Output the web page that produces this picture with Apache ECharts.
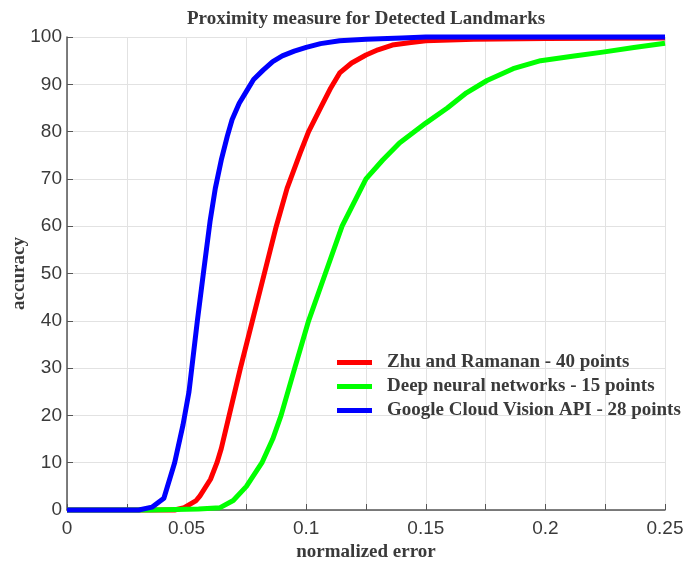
<!DOCTYPE html>
<html>
<head>
<meta charset="utf-8">
<script src="https://cdn.jsdelivr.net/npm/echarts@6/dist/echarts.min.js"></script>
<style>
  html, body { margin: 0; padding: 0; background: #fff; }
  #chart { width: 685px; height: 563px; }
</style>
</head>
<body>
<div id="chart"></div>
<script>
// --- data ---
const seriesNames = ['Zhu and Ramanan - 40 points', 'Deep neural networks - 15 points', 'Google Cloud Vision API - 28 points'];
const seriesColors = ['#ff0000', '#00ff00', '#0000ff'];

const zhuX = [0, 0.045, 0.049, 0.054, 0.0556, 0.060, 0.0627, 0.0645, 0.0678, 0.0725, 0.0775, 0.0825, 0.0875, 0.092, 0.0975, 0.101, 0.106, 0.110, 0.114, 0.119, 0.125, 0.130, 0.136, 0.143, 0.150, 0.170, 0.200, 0.250];
const zhuY = [0, 0, 0.5, 2, 3, 6.5, 10, 13, 20, 30, 40, 50, 60, 68, 75.5, 80, 85, 89, 92.4, 94.5, 96.2, 97.3, 98.3, 98.8, 99.2, 99.5, 99.7, 99.8];

const dnnX = [0, 0.035, 0.055, 0.064, 0.0695, 0.075, 0.0815, 0.086, 0.0895, 0.0952, 0.101, 0.108, 0.115, 0.125, 0.132, 0.139, 0.150, 0.159, 0.167, 0.1756, 0.1865, 0.198, 0.212, 0.224, 0.237, 0.250];
const dnnY = [0, 0, 0.2, 0.5, 2, 5, 10, 15, 20, 30, 40, 50, 60, 70, 74, 77.6, 81.8, 85, 88.2, 90.8, 93.3, 95, 96, 96.8, 97.8, 98.7];

const gcvX = [0, 0.030, 0.0355, 0.0405, 0.045, 0.0485, 0.051, 0.0545, 0.057, 0.0598, 0.062, 0.0645, 0.067, 0.069, 0.072, 0.075, 0.078, 0.082, 0.086, 0.090, 0.095, 0.100, 0.106, 0.114, 0.125, 0.140, 0.150, 0.250];
const gcvY = [0, 0, 0.6, 2.5, 10, 18, 25, 40, 50, 61, 68, 74, 79, 82.5, 86, 88.5, 91, 93, 94.8, 96, 97, 97.8, 98.6, 99.2, 99.5, 99.8, 100, 100];

const xTickLabels = ['0', '0.05', '0.1', '0.15', '0.2', '0.25'];
const yTickLabels = ['0', '10', '20', '30', '40', '50', '60', '70', '80', '90', '100'];

const serif = "'Liberation Serif', 'Times New Roman', serif";
const sans = "'Liberation Sans Narrow', 'Liberation Sans', Arial, sans-serif";

const pairs = (xs, ys) => xs.map((x, i) => [x, ys[i]]);
const allData = [pairs(zhuX, zhuY), pairs(dnnX, dnnY), pairs(gcvX, gcvY)];

const chart = echarts.init(document.getElementById('chart'));
chart.setOption({
  animation: false,
  backgroundColor: '#fff',
  title: {
    text: 'Proximity measure for Detected Landmarks',
    left: 187,
    top: 10,
    padding: 0,
    textStyle: { fontFamily: serif, fontWeight: 'bold', fontSize: 19, color: '#3a3a3a' }
  },
  legend: {
    orient: 'vertical',
    left: 337,
    top: 353,
    padding: 0,
    itemWidth: 35,
    itemHeight: 5,
    itemGap: 5,
    icon: 'rect',
    data: seriesNames,
    textStyle: { fontFamily: serif, fontWeight: 'bold', fontSize: 19, color: '#3a3a3a', padding: [0, 0, 0, 10] }
  },
  grid: { left: 67, right: 20, top: 37, bottom: 53, containLabel: false, outerBoundsMode: 'none' },
  xAxis: {
    type: 'value',
    min: 0,
    max: 0.25,
    interval: 0.025,
    name: 'normalized error',
    nameLocation: 'middle',
    nameGap: 31,
    nameTextStyle: { fontFamily: serif, fontWeight: 'bold', fontSize: 19, color: '#3a3a3a' },
    axisLine: { show: true, lineStyle: { color: '#555', width: 1.5 } },
    axisTick: { show: true, inside: true, length: 6, lineStyle: { color: '#555' } },
    axisLabel: {
      fontFamily: sans, fontSize: 19, color: '#3a3a3a', margin: 9,
      formatter: v => {
        const i = Math.round(v / 0.025);
        return i % 2 ? '' : xTickLabels[i / 2];
      }
    },
    splitLine: { show: true, lineStyle: { color: '#e2e2e2' } }
  },
  yAxis: {
    type: 'value',
    min: 0,
    max: 100,
    interval: 10,
    name: 'accuracy',
    nameLocation: 'middle',
    nameGap: 38,
    nameMoveOverlap: false,
    nameTextStyle: { fontFamily: serif, fontWeight: 'bold', fontSize: 19, color: '#3a3a3a' },
    axisLine: { show: true, lineStyle: { color: '#555', width: 1.5 } },
    axisTick: { show: true, inside: true, length: 6, lineStyle: { color: '#555' } },
    axisLabel: {
      fontFamily: sans, fontSize: 19, color: '#3a3a3a', margin: 5,
      formatter: v => yTickLabels[Math.round(v / 10)]
    },
    splitLine: { show: true, lineStyle: { color: '#e2e2e2' } }
  },
  series: seriesNames.map((name, i) => ({
    name: name,
    type: 'line',
    data: allData[i],
    showSymbol: false,
    clip: false,
    color: seriesColors[i],
    lineStyle: { width: 5, color: seriesColors[i], join: 'round' }
  }))
});
</script>
</body>
</html>
